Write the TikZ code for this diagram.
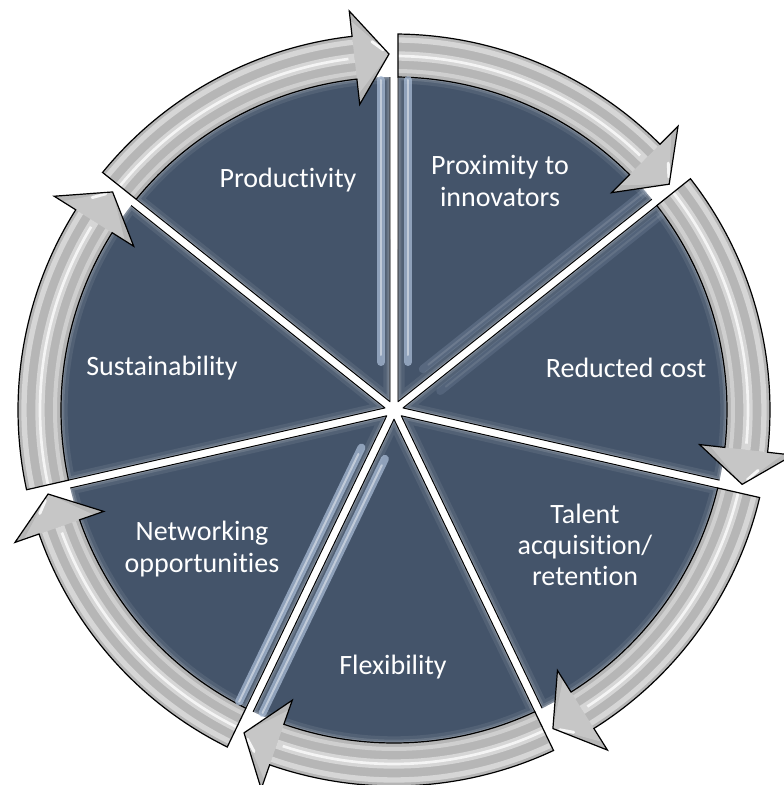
\documentclass[tikz,border=0pt]{standalone}
\usepackage{fontspec}
\setmainfont{Carlito}[Ligatures=CommonOff]
\usetikzlibrary{calc}

\definecolor{slate}{HTML}{44546A}
\definecolor{bandgray}{HTML}{B6B6B6}
\definecolor{bandlight}{HTML}{D6D6D6}
\definecolor{sheen}{HTML}{A9BCD6}

\tikzset{
  label text/.style={text=white, align=center, font=\fontsize{21}{23.5}\selectfont},
  edge line/.style={black, line width=0.7pt, line join=round},
  band line/.style={black, line width=0.9pt, line join=miter},
}

% one pie wedge with its curved arrow, running clockwise from #1 to #2 (degrees)
\newcommand\cyclesegment[2]{%
  \pgfmathsetmacro\segS{#1}%
  \pgfmathsetmacro\segE{#2}%
  \pgfmathsetmacro\segM{(#1+#2)/2}%
  \pgfmathsetmacro\segHb{#2+6.4}%
  \pgfmathsetmacro\segTip{#2+0.8}%
  \def\wedgepath{(\segM:9.2) -- (\segS-0.69:333) arc[start angle=\segS-0.69, end angle=\segE+0.69, radius=333] -- cycle}%
  \def\bandpath{(\segS-0.69:333) -- (\segS-0.61:376) arc[start angle=\segS-0.61, end angle=\segHb, radius=376] -- (\segHb:401.5) -- (\segTip:356) -- (\segHb:307.5) -- (\segHb:333) arc[start angle=\segHb, end angle=\segS-0.69, radius=333] -- cycle}%
  % wedge with a soft inner glow
  \fill[slate] \wedgepath;
  \begin{scope}
    \clip \wedgepath;
    \draw[white, opacity=0.08, line width=10pt] \wedgepath;
    \draw[white, opacity=0.12, line width=5pt] \wedgepath;
    \draw[white, opacity=0.2, line width=2pt] \wedgepath;
  \end{scope}
  \draw[edge line] (\segS-0.69:333) -- (\segM:9.2) -- (\segE+0.69:333);
  % curved arrow with a tube-like sheen
  \fill[bandgray] \bandpath;
  \begin{scope}
    \clip \bandpath;
    \draw[bandlight, line width=4pt] (\segS:370) arc[start angle=\segS, end angle=\segHb, radius=370];
    \draw[bandlight, line width=7pt] (\segS:354) arc[start angle=\segS, end angle=\segHb, radius=354];
    \draw[white, opacity=0.75, line width=2pt] (\segS:354) arc[start angle=\segS, end angle=\segHb+1, radius=354];
    \draw[bandlight, opacity=0.8, line width=3pt] (\segS:339) arc[start angle=\segS, end angle=\segHb, radius=339];
    \fill[bandlight, opacity=0.5] (\segHb:392) -- (\segTip:356) -- (\segHb:318) -- cycle;
  \end{scope}
  \draw[white, opacity=0.85, line width=2.2pt, line cap=round]
    ($(\segHb:386)!0.55!(\segTip:356)$) -- ($(\segHb:386)!0.85!(\segTip:356)$);
  \draw[band line] \bandpath;
}

% light reflection running along a wedge edge
\newcommand\edgesheen[3]{% #1 boundary angle, #2 signed offset, #3 opacity
  \draw[sheen, opacity=#3, line width=6pt, line cap=round]
    ($(#1:48)+(#1+90:#2)$) -- ($(#1:330)+(#1+90:#2)$);
  \draw[white, opacity=0.6*#3, line width=1.5pt, line cap=round]
    ($(#1:55)+(#1+90:#2)$) -- ($(#1:330)+(#1+90:#2)$);
}

\begin{document}
\begin{tikzpicture}[x=0.75pt, y=0.75pt]
  \useasboundingbox (-394,-375) rectangle (389,410);

  \cyclesegment{90}{38.5714}
  \cyclesegment{38.5714}{-12.8571}
  \cyclesegment{-12.8571}{-64.2857}
  \cyclesegment{-64.2857}{-115.7143}
  \cyclesegment{-115.7143}{-167.1429}
  \cyclesegment{-167.1429}{-218.5714}
  \cyclesegment{141.4286}{90}

  \edgesheen{90}{13}{0.75}
  \edgesheen{90}{-14}{0.75}
  \edgesheen{-115.7143}{13}{0.75}
  \edgesheen{-115.7143}{-13}{0.75}
  \edgesheen{38.5714}{14}{0.2}
  \edgesheen{38.5714}{-14}{0.15}

  \node[label text] (proximity) at (106,229) {Proximity to\\innovators};
  \node[label text] (cost) at (232,42) {Reducted cost};
  \node[label text] (talent) at (191,-135) {Talent\\acquisition/\\retention};
  \node[label text] (flexibility) at (-1,-257) {Flexibility};
  \node[label text] (networking) at (-192,-139) {Networking\\opportunities};
  \node[label text] (sustainability) at (-232,42) {Sustainability};
  \node[label text] (productivity) at (-106,230) {Productivity};
\end{tikzpicture}
\end{document}
